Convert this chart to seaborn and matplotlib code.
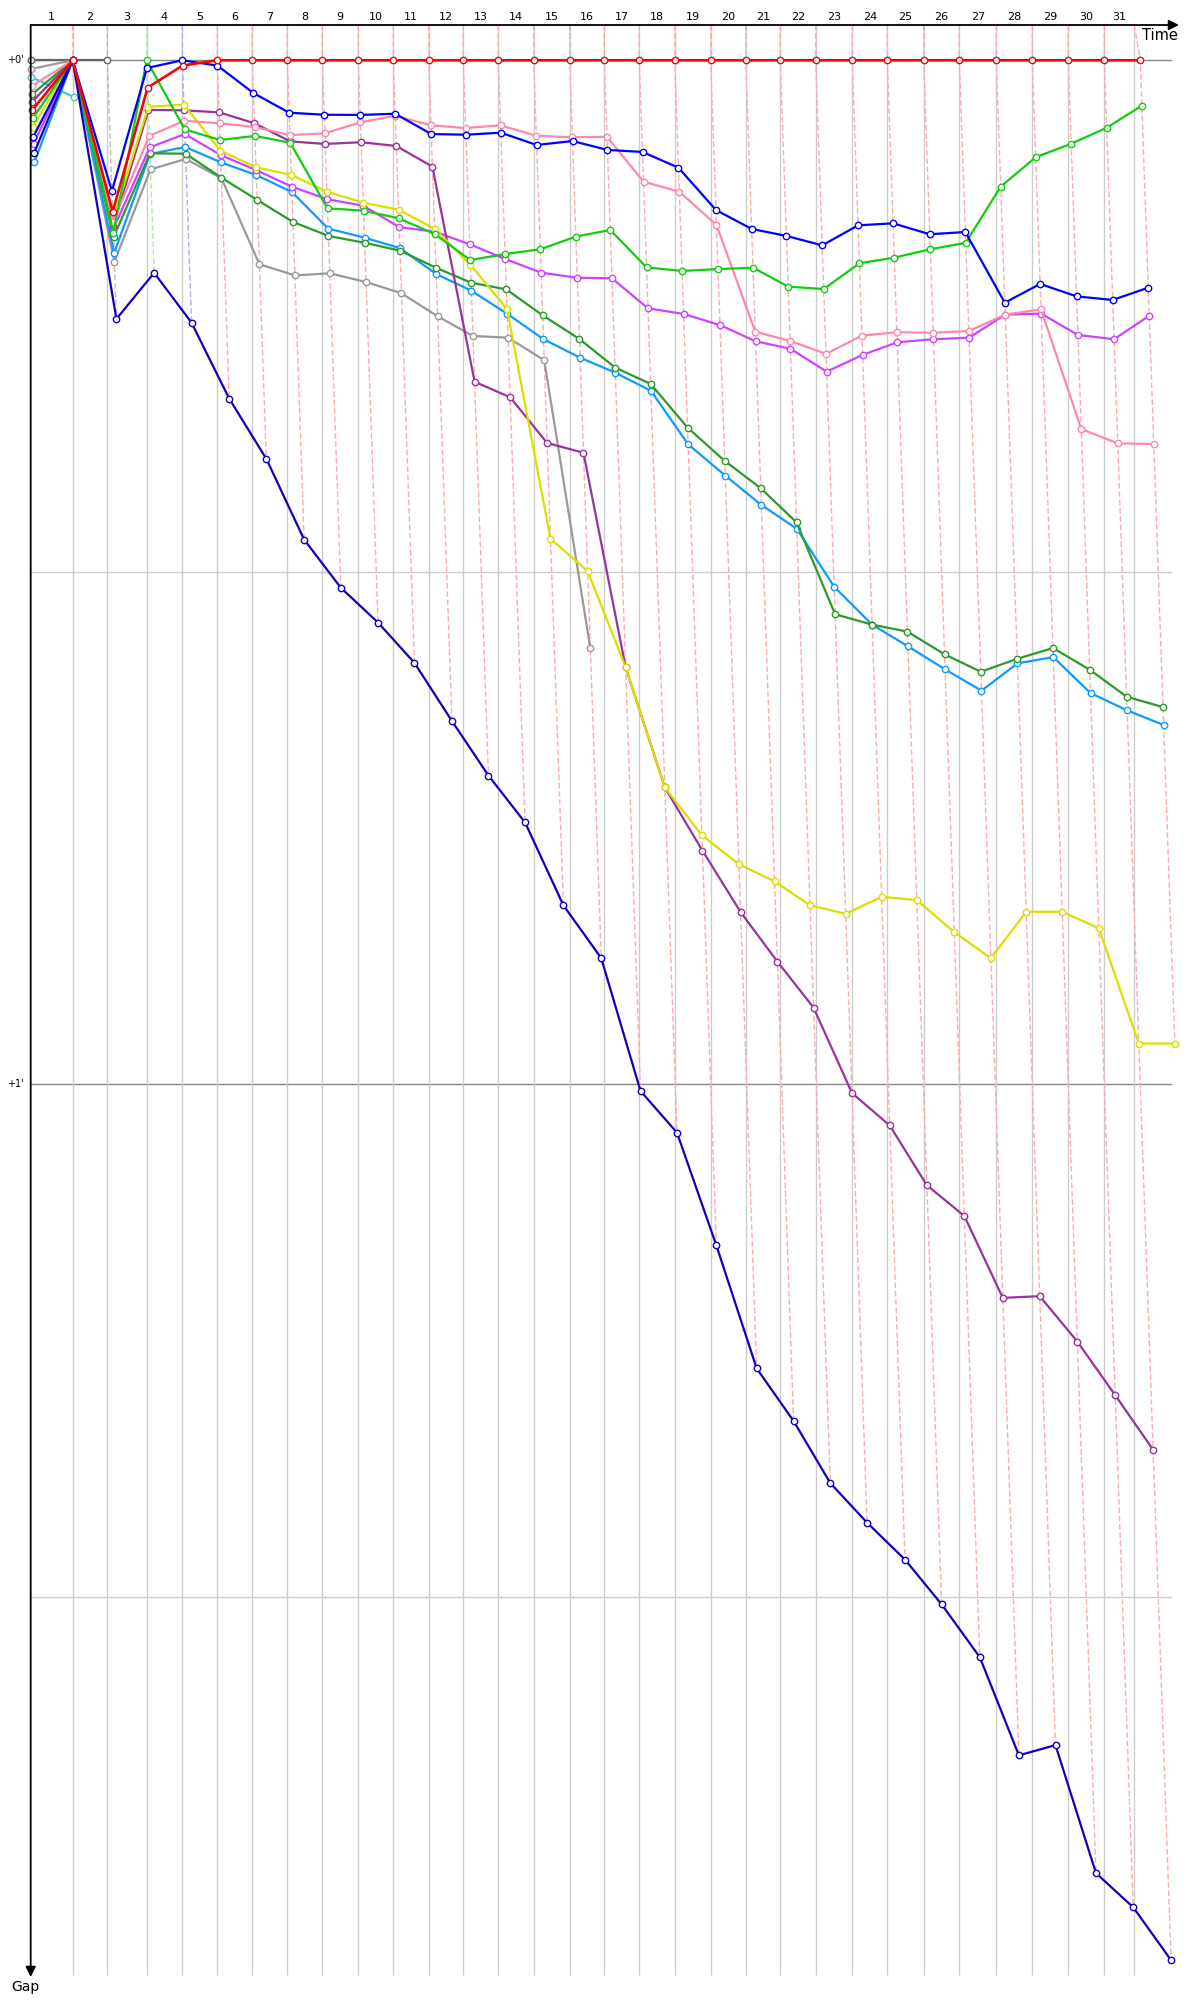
import numpy as np
import pandas as pd
import seaborn as sns
import matplotlib.pyplot as plt

# leader's lap end times (s from start); last value is the finish
lap_end_s = [70.0, 127.7, 193.3, 252.7, 311.0, 369.3, 427.7, 486.0, 546.0, 604.3,
             663.3, 721.0, 779.3, 838.3, 898.3, 956.0, 1014.3, 1073.3, 1133.3, 1191.7,
             1249.3, 1308.3, 1369.3, 1427.7, 1488.3, 1547.7, 1609.3, 1669.3, 1729.3, 1789.3,
             1849.3]
last_grid_s = 1839.3
lap_labels = [str(i) for i in range(1, 32)]
# colour of the leader on each lap (used for the lap lines)
lap_line_colors = ["#ffaaaa", "#bbbbbb", "#aaeeaa", "#aaaaff"] + ["#ffaaaa"] * 27

# gaps to the leader (s), lap 0 = start
red = [2.91, 0, 8.87, 1.6, 0.31] + [0] * 27
blue = [4.47, 0, 7.66, 0.45, 0, 0.31, 1.92, 3.07, 3.19, 3.2, 3.13, 4.32, 4.36, 4.24, 4.96, 4.73,
        5.25, 5.37, 6.29, 8.77, 9.88, 10.29, 10.84, 9.67, 9.55, 10.19, 10.06, 14.2, 13.1, 13.83,
        14.04, 13.32]
green = [3.4, 0, 10.1, 0, 4.05, 4.67, 4.43, 4.83, 8.67, 8.81, 9.26, 10.18, 11.7, 11.35, 11.07,
         10.33, 9.94, 12.13, 12.34, 12.23, 12.15, 13.26, 13.4, 11.89, 11.56, 11.07, 10.69, 7.4,
         5.68, 4.89, 3.95, 2.66]
pink = [1.51, 0, 9.45, 4.43, 3.54, 3.69, 3.91, 4.38, 4.28, 3.63, 3.25, 3.81, 3.97, 3.81, 4.42,
        4.51, 4.48, 7.11, 7.7, 9.65, 15.9, 16.44, 17.2, 16.13, 15.93, 15.96, 15.86, 14.9, 14.59,
        21.6, 22.44, 22.48]
violet = [4.9, 0, 9.9, 5.1, 4.32, 5.55, 6.43, 7.4, 8.14, 8.52, 9.77, 10.04, 10.78, 11.64, 12.44,
          12.74, 12.77, 14.53, 14.86, 15.51, 16.46, 16.9, 18.24, 17.26, 16.52, 16.34, 16.25, 14.9,
          14.84, 16.09, 16.34, 14.96]
purple = [2.42, 0, 9.71, 2.91, 2.93, 3.05, 3.69, 4.75, 4.9, 4.8, 5.02, 6.23, 18.83, 19.74, 22.42,
          22.99, 35.56, 42.6, 46.3, 49.9, 52.8, 55.5, 60.5, 62.4, 65.9, 67.7, 72.5, 72.4, 75.06,
          78.2, 81.4]
yellow = [3.89, 0, 9.35, 2.72, 2.6, 5.3, 6.27, 6.72, 7.7, 8.34, 8.75, 9.87, 11.99, 14.57, 28.03,
          29.92, 35.56, 42.6, 45.4, 47.1, 48.1, 49.5, 50.0, 49.0, 49.2, 51.08, 52.6, 49.88, 49.88,
          50.85, 57.6, 57.6]
dark_green = [2.0, 0, 10.37, 5.45, 5.47, 6.88, 8.18, 9.47, 10.29, 10.69, 11.15, 12.15, 13.03,
              13.42, 14.94, 16.33, 18.0, 18.96, 21.52, 23.47, 25.07, 27.07, 32.45, 33.06, 33.47,
              34.8, 35.82, 35.06, 34.43, 35.7, 37.28, 37.89]
light_blue = [5.98, 0, 11.3, 5.49, 5.08, 5.98, 6.72, 7.72, 9.86, 10.39, 11.0, 12.52, 13.5, 14.85,
              16.34, 17.42, 18.3, 19.36, 22.5, 24.33, 26.05, 27.44, 30.84, 33.06, 34.33, 35.68,
              36.93, 35.33, 34.96, 37.07, 38.08, 38.94]
gray = [0.51, 0, 11.8, 6.39, 5.78, 6.91, 11.95, 12.6, 12.48, 12.99, 13.65, 15.0, 16.15, 16.25,
        17.57, 34.45]
navy = [5.45, 0, 15.15, 12.45, 15.37, 19.82, 23.34, 28.08, 30.9, 32.94, 35.3, 38.7, 41.9, 44.65,
        49.5, 52.6, 60.38, 62.82, 69.42, 76.63, 79.71, 83.35, 85.67, 87.83, 90.45, 93.55, 99.3,
        98.7, 106.2, 108.2, 111.3]
dark_gray = [0, 0, 0]
cyan = [0.98, 2.16]

# draw order: first is at the back
series = [
    ("dark_gray", dark_gray, "#666666"),
    ("cyan", cyan, "#44cccc"),
    ("gray", gray, "#999999"),
    ("light_blue", light_blue, "#1199ff"),
    ("dark_green", dark_green, "#2b9a2b"),
    ("violet", violet, "#cc44ff"),
    ("purple", purple, "#993399"),
    ("yellow", yellow, "#dddd00"),
    ("pink", pink, "#ff88aa"),
    ("green", green, "#11cc11"),
    ("blue", blue, "#0000ff"),
    ("navy", navy, "#1100bb"),
    ("red", red, "#ff0000"),
]

# pixel layout of the original: x 0.6 px/s from x=30.7, y 17.07 px/s from y=60.3
W, H = 1200, 2000
X0, SX = 30.7, 0.6
Y0, SY = 60.3, 17.07
top_gap = (25 - Y0) / SY
bottom_gap = (1975 - Y0) / SY
right_t = (1170.7 - X0) / SX
arrow_t = (1179 - X0) / SX

fig = plt.figure(figsize=(W / 100, H / 100), dpi=100)
ax = fig.add_axes([0, 0, 1, 1])

# horizontal lines every half minute
for g in [0, 30, 60, 90]:
    c = "#888888" if g % 60 == 0 else "#cccccc"
    ax.plot([0, right_t], [g, g], color=c, lw=1, zorder=1)
for g, lab in [(0, "+0'"), (60, "+1'")]:
    ax.text(-15 / SX, g, lab, ha="center", va="center", fontsize=7)

# vertical lap grid
grid_s = lap_end_s[:-1] + [last_grid_s]
ax.vlines(grid_s, top_gap, bottom_gap, color="#cccccc", lw=1, zorder=1)

# lap lines: from the top axis through every car of that lap, down to the last car
for k, (g0, t, c) in enumerate(zip(grid_s, lap_end_s, lap_line_colors), start=1):
    last = max(gaps[k] for _, gaps, _ in series if len(gaps) > k)
    ax.plot([g0, t, t + last], [top_gap, 0, last], color=c, lw=1,
            ls=(0, (4, 2)), zorder=2)

# lap numbers
edges = [0] + grid_s
for i, lab in enumerate(lap_labels):
    ax.text((edges[i] + edges[i + 1]) / 2, (17.5 - Y0) / SY, lab, ha="center", va="center",
            fontsize=8)

# drivers
base = [0] + lap_end_s
for name, gaps, color in series:
    d = pd.DataFrame({"lap": range(len(gaps)), "gap": gaps})
    d["t"] = [base[i] + g for i, g in zip(d["lap"], d["gap"])]
    sns.lineplot(data=d, x="t", y="gap", color=color, lw=1.9 if name == "red" else 1.6,
                 marker="o", markersize=4.6, markerfacecolor="white", markeredgecolor=color,
                 markeredgewidth=1, sort=False, estimator=None, legend=False, ax=ax, zorder=3)

ax.set_xlim(-X0 / SX, (W - X0) / SX)
ax.set_ylim((H - Y0) / SY, -Y0 / SY)
ax.axis("off")

# axes with arrows
ax.annotate("", xy=(arrow_t, top_gap), xytext=(0, top_gap),
            arrowprops=dict(arrowstyle="-|>", color="black", lw=1.3, mutation_scale=15,
                            shrinkA=0, shrinkB=0), zorder=5)
ax.annotate("", xy=(0, (1977 - Y0) / SY), xytext=(0, top_gap),
            arrowprops=dict(arrowstyle="-|>", color="black", lw=1.3, mutation_scale=15,
                            shrinkA=0, shrinkB=0), zorder=5)
ax.text((1160 - X0) / SX, (36 - Y0) / SY, "Time", ha="center", va="center", fontsize=10.5)
ax.text((25 - X0) / SX, (1987 - Y0) / SY, "Gap", ha="center", va="center", fontsize=10)

fig.savefig("out.png", dpi=100)
